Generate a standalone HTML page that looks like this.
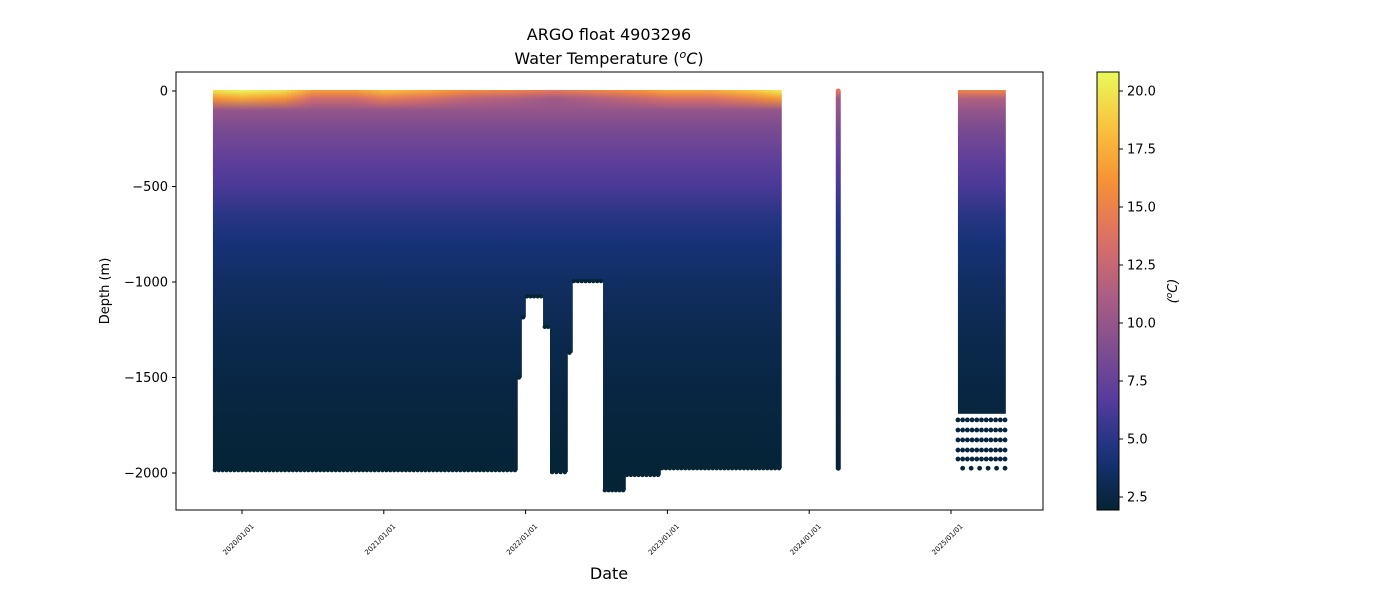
<!DOCTYPE html>
<html><head><meta charset="utf-8">
<style>
body{margin:0;background:#fff;}
svg{display:block;font-family:"DejaVu Sans","Liberation Sans",sans-serif;}
</style></head>
<body>
<svg id="chart" width="1400" height="600" viewBox="0 0 1400 600" xmlns="http://www.w3.org/2000/svg">
<defs id="defs"></defs>
<text x="609" y="40" font-size="16" text-anchor="middle" fill="#000">ARGO float 4903296</text>
<text x="609" y="64" font-size="16" text-anchor="middle" fill="#000">Water Temperature (<tspan font-style="italic" font-size="11" dy="-6">o</tspan><tspan font-style="italic" dy="6">C</tspan>)</text>
<g id="plot"></g>
<rect x="176" y="72" width="867" height="438" fill="none" stroke="#000" stroke-width="1"/>
<g id="yaxis"></g>
<g id="xaxis"></g>
<text transform="translate(109,291) rotate(-90)" font-size="13" text-anchor="middle">Depth (m)</text>
<text x="609" y="579" font-size="16" text-anchor="middle">Date</text>
<g id="cbar"></g>
<text transform="translate(1177,291) rotate(-90)" font-size="13" text-anchor="middle" font-style="italic">(<tspan font-size="9" dy="-5">o</tspan><tspan dy="5">C)</tspan></text>
</svg>
<script>
// ---- data ----
const segStart = [2019.795, 2021.939, 2021.968, 2021.996, 2022.123, 2022.172, 2022.292, 2022.327, 2022.546, 2022.701, 2022.948, 2024.19, 2025.049];
const segEnd   = [2021.939, 2021.968, 2021.996, 2022.123, 2022.172, 2022.292, 2022.327, 2022.546, 2022.701, 2022.948, 2023.801, 2024.22, 2025.381];
const segBottom = [-1985, -1500, -1185, -1075, -1235, -1995, -1370, -995, -2090, -2010, -1975, -1975, -1690];
const sstDates = [2019.8, 2020.0, 2020.3, 2020.5, 2020.8, 2021.0, 2021.3, 2021.6, 2021.9, 2022.2, 2022.5, 2022.8, 2023.0, 2023.3, 2023.6, 2023.8, 2024.2, 2025.1, 2025.4];
const sstValues = [19.5, 20.5, 19.5, 16.5, 16.5, 18, 17, 15.5, 15, 14, 15, 16, 17, 17, 18.5, 20, 14, 15, 15];
const profDepths = [0, -40, -100, -200, -350, -500, -650, -800, -1000, -1300, -1600, -2000, -2150];
const profTemps  = [null, null, 10.0, 8.6, 7.3, 6.2, 5.0, 4.2, 3.5, 2.8, 2.4, 2.05, 2.0];
const dotRowDepths = [-1722, -1775, -1827, -1880, -1927];
const dotLastDepth = -1975;
const yTicks = [0, -500, -1000, -1500, -2000];
const xTickYears = [2020, 2021, 2022, 2023, 2024, 2025];
const xTickLabels = ["2020/01/01","2021/01/01","2022/01/01","2023/01/01","2024/01/01","2025/01/01"];
const cbTicks = [2.5, 5.0, 7.5, 10.0, 12.5, 15.0, 17.5, 20.0];
const tMin = 1.94, tMax = 20.82;

// ---- scales ----
const NS = "http://www.w3.org/2000/svg";
const xS = d => 242 + (d - 2020) * 141.8;
const yS = v => 91 - v * 0.191;
const cmapStops = [[4,35,51],[23,51,122],[85,59,157],[129,79,143],[175,95,130],[222,112,100],[246,145,53],[250,195,60],[232,250,91]];
function color(t){
  let f = Math.max(0, Math.min(1, (t - tMin) / (tMax - tMin))) * (cmapStops.length - 1);
  let i = Math.min(Math.floor(f), cmapStops.length - 2), r = f - i;
  const a = cmapStops[i], b = cmapStops[i+1];
  return `rgb(${a.map((c,k)=>Math.round(c+(b[k]-c)*r)).join(',')})`;
}
function sstAt(d){
  if (d <= sstDates[0]) return sstValues[0];
  for (let i=1;i<sstDates.length;i++) if (d <= sstDates[i]) {
    const r=(d-sstDates[i-1])/(sstDates[i]-sstDates[i-1]); return sstValues[i-1]+(sstValues[i]-sstValues[i-1])*r;}
  return sstValues[sstValues.length-1];
}
function mk(tag, attrs, parent){ const e=document.createElementNS(NS,tag); for(const k in attrs) e.setAttribute(k,attrs[k]); parent.appendChild(e); return e; }
const defs=document.getElementById('defs'), plot=document.getElementById('plot');
let gid=0;
function profGradient(sst){
  const g=mk('linearGradient',{id:'pg'+(gid++),gradientUnits:'userSpaceOnUse',x1:0,x2:0,y1:yS(0),y2:yS(-2150)},defs);
  profDepths.forEach((dp,i)=>{
    let t = profTemps[i]; if (i===0) t=sst; if (i===1) t=Math.max(profTemps[2]+0.5, sst-3.5);
    mk('stop',{offset:((yS(dp)-yS(0))/(yS(-2150)-yS(0))).toFixed(4),'stop-color':color(t)},g);
  });
  return 'url(#'+g.id+')';
}
const step = 10/365.25;
segStart.forEach((s,si)=>{
  const e=segEnd[si], bot=segBottom[si];
  const single = (e - s) < 0.05 && si===11;
  if (single){
    const d=(s+e)/2, x=xS(d);
    const r=mk('rect',{x:x-2.5,y:yS(0)-2.5,width:5,height:yS(bot)-yS(0)+5,rx:2.5,fill:profGradient(sstAt(d))},plot);
    
    
    return;
  }
  const n=Math.max(1,Math.round((e-s)/step));
  for(let k=0;k<n;k++){
    const d0=s+(e-s)*k/n, d1=s+(e-s)*(k+1)/n;
    const x0=xS(d0), x1=xS(d1);
    const fill=profGradient(sstAt((d0+d1)/2));
    const r=mk('rect',{x:x0.toFixed(2),y:yS(0)-1,width:(x1-x0+0.8).toFixed(2),height:(yS(bot)-yS(0)+1).toFixed(2),fill:fill},plot);
    
    
    if (si!==12){
      const c=mk('circle',{cx:((x0+x1)/2).toFixed(2),cy:yS(bot).toFixed(2),r:2.2,fill:color(2.05)},plot);
      
      
    }
  }
});
// deep dots for last segment
const ls=segStart[12], le=segEnd[12];
dotRowDepths.forEach(dp=>{
  for(let k=0;k<=10;k++){
    const c=mk('circle',{cx:xS(ls+(le-ls)*k/10),cy:yS(dp),r:2.4,fill:color(2.3)},plot);
    
    
  }
});
for(let k=0;k<6;k++){
  const c=mk('circle',{cx:xS(ls+(le-ls)*(0.1+0.9*k/5)),cy:yS(dotLastDepth),r:2.4,fill:color(2.2)},plot);
  
  
}
// axes
const ya=document.getElementById('yaxis');
yTicks.forEach(v=>{
  const l=mk('line',{x1:172,x2:176,y1:yS(v),y2:yS(v),stroke:'#000'},ya);
  
  
  const t=mk('text',{x:168,y:yS(v)+4.5,'font-size':13,'text-anchor':'end'},ya);
  t.textContent=(v<0?'\u2212'+(-v):v);
  
  
});
const xa=document.getElementById('xaxis');
xTickYears.forEach((yv,i)=>{
  const x=xS(yv);
  const l=mk('line',{x1:x,x2:x,y1:510,y2:514,stroke:'#000'},xa);
  
  
  const t=mk('text',{transform:`translate(${x-2},${541}) rotate(-45)`,'font-size':7,'text-anchor':'middle'},xa);
  t.textContent=xTickLabels[i];
  
  
});
// colorbar
const cb=document.getElementById('cbar');
const cg=mk('linearGradient',{id:'cbg',x1:0,x2:0,y1:1,y2:0},defs);
for(let i=0;i<=20;i++) mk('stop',{offset:i/20,'stop-color':color(tMin+(tMax-tMin)*i/20)},cg);
const cbY=v=>91+(20-v)*23.2;
const cr=mk('rect',{x:1097,y:72,width:22,height:438,fill:'url(#cbg)',stroke:'#000','stroke-width':1},cb);


cbTicks.forEach(v=>{
  const l=mk('line',{x1:1119,x2:1123,y1:cbY(v),y2:cbY(v),stroke:'#000'},cb);
  
  
  const t=mk('text',{x:1127,y:cbY(v)+4.5,'font-size':13},cb);
  t.textContent=v.toFixed(1);
  
  
});
</script>
</body></html>
